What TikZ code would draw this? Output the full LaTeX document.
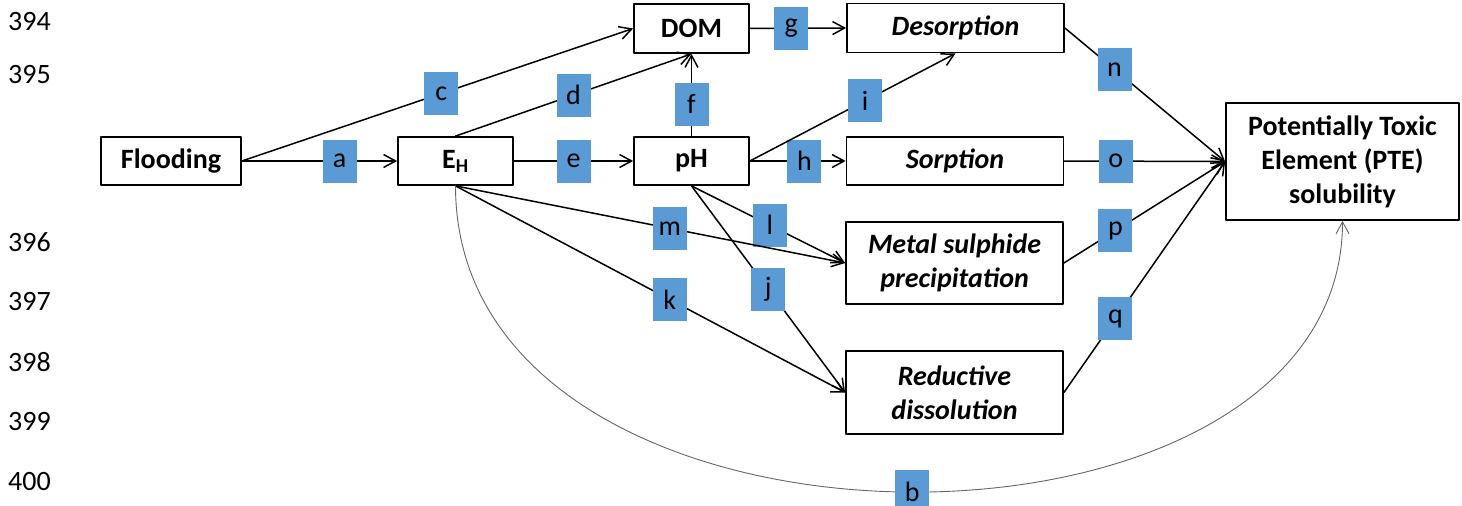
\documentclass[tikz,border=0pt]{standalone}
\usepackage{fontspec}
\setmainfont{Carlito}
\usetikzlibrary{arrows.meta}
\definecolor{lblblue}{HTML}{5B9BD5}
\newcommand\bigsize{\fontsize{28}{34}\selectfont}
\tikzset{
	box/.style={draw, line width=1.8pt, align=center, inner sep=0pt, font=\bigsize\bfseries},
	proc/.style={box, font=\bigsize\bfseries\itshape},
	lbl/.style={fill=lblblue, minimum width=34pt, minimum height=43pt, inner sep=0pt, font=\bigsize},
	link/.style={line width=1.5pt, -{Straight Barb[length=12pt,width=13pt]}},
	curve/.style={line width=0.9pt, draw=black!60, -{Straight Barb[length=12pt,width=13pt]}},
	lnum/.style={anchor=west, inner sep=0pt, font=\bigsize}
}
\begin{document}
\begin{tikzpicture}[x=1pt, y=-1pt, line join=round, line cap=round]
		\useasboundingbox (0,0) rectangle (1462,506);
		% line numbers
		\foreach \n/\y in {394/22,395/75,396/242,397/302,398/362,399/422,400/482}
			\node[lnum] (ln\n) at (8,\y) {\n};
		% boxes
		\node[box, minimum width=140pt, minimum height=48pt] (flood) at (171,161) {Flooding};
		\node[box, minimum width=115pt, minimum height=48pt] (eh) at (455.5,161) {E\textsubscript{H}};
		\node[box, minimum width=115pt, minimum height=49pt] (dom) at (691.5,28.5) {DOM};
		\node[box, minimum width=115pt, minimum height=48pt] (ph) at (691.5,161) {pH};
		\node[proc, minimum width=217pt, minimum height=49pt] (desorp) at (955.5,28) {Desorption};
		\node[proc, minimum width=217pt, minimum height=48pt] (sorp) at (955,161) {Sorption};
		\node[proc, minimum width=217pt, minimum height=82pt] (sulph) at (954.5,263) {Metal sulphide\\precipitation};
		\node[proc, minimum width=217pt, minimum height=83pt] (reduct) at (954.5,392.5) {Reductive\\dissolution};
		\node[box, minimum width=233pt, minimum height=117pt] (pte) at (1342.5,161.5) {Potentially Toxic\\Element (PTE)\\solubility};
		% connectors
		\draw[link] (flood.east) -- node[lbl, pos=.63] (la) {a} (eh.west);
		\draw[link] (flood.east) -- node[lbl, pos=.51] (lc) {c} (dom.west);
		\draw[link] (eh.north) -- node[lbl, pos=.5] (ld) {d} (dom.south);
		\draw[link] (eh.east) -- node[lbl, pos=.5] (le) {e} (ph.west);
		\draw[link] (ph.north) -- node[lbl, pos=.39] (lf) {f} (dom.south);
		\draw[link] (dom.east) -- node[lbl, pos=.43] (lg) {g} (desorp.west);
		\draw[link] (ph.east) -- node[lbl, pos=.57] (lh) {h} (sorp.west);
		\draw[link] (ph.east) -- node[lbl, pos=.56] (li) {i} (desorp.south);
		\draw[link] (ph.south) -- node[lbl, pos=.5] (lj) {j} (reduct.west);
		\draw[link] (eh.south) -- node[lbl, pos=.55] (lk) {k} (reduct.west);
		\draw[link] (ph.south) -- node[lbl, pos=.51] (ll) {l} (sulph.west);
		\draw[link] (eh.south) -- node[lbl, pos=.55] (lm) {m} (sulph.west);
		\draw[link] (desorp.east) -- node[lbl, pos=.31] (ln) {n} (pte.west);
		\draw[link] (sorp.east) -- node[lbl, pos=.32] (lo) {o} (pte.west);
		\draw[link] (sulph.east) -- node[lbl, pos=.32] (lp) {p} (pte.west);
		\draw[link] (reduct.east) -- node[lbl, pos=.32] (lq) {q} (pte.west);
		\draw[curve] (eh.south) .. controls +(0,402) and +(0,367) .. node[lbl, pos=.51] (lb) {b} (pte.south);
	\end{tikzpicture}
\end{document}
